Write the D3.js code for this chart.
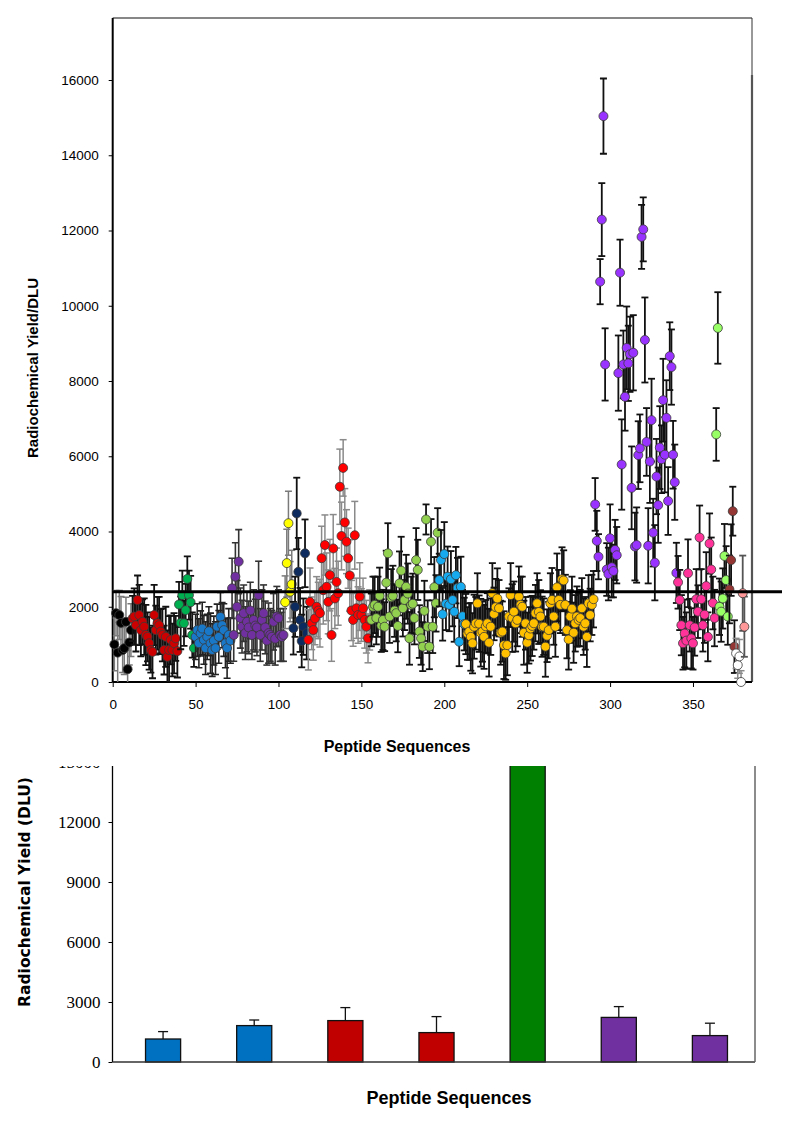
<!DOCTYPE html>
<html><head><meta charset="utf-8">
<script src="https://cdn.jsdelivr.net/npm/d3@7"></script>
<style>body{margin:0;background:#fff}</style>
</head><body>
<svg id="chart" width="800" height="1128"></svg>
<script>
// ---------- Top chart data (peptide index = running position) ----------
const blackY = [1000,1830,780,1780,1570,850,900,1600,340,1050,1380];
const blackE = [700,600,800,650,700,600,700,650,500,600,700];
const red1Y = [1690,1740,1510,2180,1780,1380,1600,1470,1250,1200,1030,850,800,1780,1380,1560,1510,1340,1250,850,1200,670,850,1120,850,1030,1160,820];
const red1E = [600,750,700,650,800,700,600,750,800,650,700,600,700,800,650,700,750,600,700,650,800,700,900,650,700,800,600,700];
const greenY = [2060,1570,2310,1560,1910,2740,2310,2120,1250,900];
const greenE = [600,700,650,600,700,600,650,700,600,500];
const blueY = [1200,1380,1030,1290,1420,1120,900,1200,1350,1030,850,1100,900,1470,1200,1730,1510,1380,1030,900,1250,1100];
const blueE = [600,700,650,600,700,650,700,600,650,800,700,650,700,600,700,650,600,700,650,800,700,600];
const purple1Y = [2490,1250,2800,2000,3200,1700,1470,1830,1300,1600,1450,1900,1250,1650,1500,1450,2310,1250,1650,1830,1450,1100,1300,1250,1200,1600,1150,1740,1700,1250,1200,1250];
const purple1E = [800,700,900,700,850,800,700,750,700,800,700,750,650,800,700,750,900,700,800,750,700,650,800,700,700,750,700,800,750,700,650,700];
const yellowY = [2120,3160,4220,2400,2600];
const yellowE = [700,900,850,800,900];
const navyY = [1430,2000,4480,2930,1650,1090,1470,3420,1300];
const navyE = [700,800,950,900,850,700,750,900,700];
const red2Y = [1120,2130,1560,1380,1690,2000,1900,1830,3290,2440,3640,2530,2130,2840,1250,3550,2220,2660,2360,5190,3880,5690,4240,3730,3290,2830,1900,1650,3900,1960,1780,2270,1780,1960,1650,1470,1160,1650];
const red2E = [800,900,700,800,700,800,750,900,850,900,800,900,850,950,700,900,800,900,850,1000,900,750,900,850,800,950,800,700,900,800,750,900,700,800,750,700,650,800];
const lgreenY = [1650,2000,2050,1700,2000,2290,1500,1650,1470,2640,3420,1740,2250,2290,1900,1830,1490,2620,2960,1960,2180,2530,2350,1160,2050,2080,1700,3240,2980,1340,1160,940,1890,4320,1470,940,3730,1470,2520,2090,3970];
const lgreenE = [700,800,750,700,800,750,700,800,650,850,800,700,750,800,700,750,700,850,900,750,800,850,800,700,750,800,700,850,800,700,700,650,800,400,700,600,600,700,800,750,650];
const lblueY = [2710,3240,1800,3400,2080,2800,2050,2730,2180,1870,2840,2500,1070,2530,1750,1540];
const lblueE = [700,800,700,850,700,800,700,750,700,800,750,800,650,800,700,700];
const orangeY = [1540,1290,1340,1200,1030,1470,1560,2090,1550,1310,
  1340,1200,1480,1560,1045,1470,2360,1810,1990,2220,
  1960,1310,1340,980,760,980,1740,2310,1700,1870,
  1560,1650,2270,2050,2000,1310,1560,1045,1240,1420,
  1490,1560,1830,2090,1860,1740,1470,1470,940,1230,
  1380,2090,2180,1740,1470,2515,2180,2050,2730,2700,
  2050,1380,1130,1740,1950,1310,1560,1740,1650,1700,
  1960,1470,1560,1200,2090,1780,2050,2200];
const orangeE = [800,700,750,900,800,850,700,800,750,900,
  800,850,700,800,900,750,800,700,750,800,
  750,850,800,900,700,800,750,850,900,800,
  750,700,800,750,800,850,700,800,750,850,
  800,700,750,800,850,700,800,750,800,700,
  750,800,850,750,800,900,800,750,850,800,
  800,750,800,700,850,800,750,800,700,750,
  800,750,700,800,750,700,800,750];
const purple2Y = [4720,3750,3330,10640,12290,15040,8440,2990,2870,3820,
  3050,2950,3510,3370,8210,10880,5780,8440,7580,8880,
  8470,8710,5160,8750,3600,3640,6030,6210,11830,12030,
  9090,6380,3620,5860,6960,3970,3170,5460,4700,6230,
  5920,7490,6040,7020,4810,8660,8370,6040,5310,2900];
const purple2E = [700,800,600,600,970,1000,960,700,700,900,
  800,700,800,750,1000,880,1200,900,900,1100,
  1000,1000,1100,1000,900,1000,900,900,850,850,
  1130,900,1000,1100,1100,900,1000,1000,1000,1100,
  900,1100,1000,1000,900,900,1000,900,1000,800];
const pinkY = [2650,2180,1510,1030,1290,1100,2890,1510,1160,1030,1450,2200,1870,3840,2200,1510,1790,2550,1200,3680,2990,2100,1700];
const pinkE = [700,800,800,700,900,750,900,700,800,700,750,800,700,850,800,700,750,900,650,800,850,700,750];
const lime2Y = [6580,9410,2000,1870,2220,3350,2710,1740];
const lime2E = [700,950,750,800,800,850,900,750];
const brownY = [2460,3240,4540,940];
const brownE = [900,950,650,700];
const whiteY = [760,450,680,0];
const whiteE = [400,350,450,300];
const salmonY = [2360,1470];
const salmonE = [1000,800];

const xTickValues = [0,50,100,150,200,250,300,350];
const yTickValues = [0,2000,4000,6000,8000,10000,12000,14000,16000];
const thresholdValue = 2400;

// ---------- Bottom chart data ----------
const barLabels = ["A","B","C","D","E","F","G"];
const barValues = [1150,1820,2070,1470,16500,2230,1320];
const barErrors = [370,280,650,800,0,540,620];
const barTickValues = [0,3000,6000,9000,12000,15000];

// ---------- styles ----------
const seriesList = [
  {y: blackY, e: blackE, fill: "#000000", ec: "#7a7a7a", ew: 1.5},
  {y: red1Y, e: red1E, fill: "#cc0000", ec: "#111", ew: 1.8},
  {y: greenY, e: greenE, fill: "#00b050", ec: "#111", ew: 1.8},
  {y: blueY, e: blueE, fill: "#1a78c8", ec: "#222", ew: 1.6},
  {y: purple1Y, e: purple1E, fill: "#7030a0", ec: "#333", ew: 1.6},
  {y: yellowY, e: yellowE, fill: "#ffff00", ec: "#7a7a7a", ew: 1.5},
  {y: navyY, e: navyE, fill: "#0d2b5e", ec: "#111", ew: 1.8},
  {y: red2Y, e: red2E, fill: "#ff0000", ec: "#8a8a8a", ew: 1.5},
  {y: lgreenY, e: lgreenE, fill: "#92d050", ec: "#111", ew: 1.8},
  {y: lblueY, e: lblueE, fill: "#17aaee", ec: "#111", ew: 1.8},
  {y: orangeY, e: orangeE, fill: "#ffc000", ec: "#111", ew: 1.8},
  {y: purple2Y, e: purple2E, fill: "#9933ff", ec: "#111", ew: 1.8},
  {y: pinkY, e: pinkE, fill: "#ff3399", ec: "#111", ew: 1.8},
  {y: lime2Y, e: lime2E, fill: "#99ff66", ec: "#111", ew: 1.8},
  {y: brownY, e: brownE, fill: "#943634", ec: "#111", ew: 1.8},
  {y: whiteY, e: whiteE, fill: "#ffffff", ec: "#8a8a8a", ew: 1.5},
  {y: salmonY, e: salmonE, fill: "#ff9999", ec: "#555", ew: 1.8}
];
const barFills = ["#0070c0","#0070c0","#c00000","#c00000","#008000","#7030a0","#7030a0"];

const svg = d3.select("#chart");

// ---------- TOP CHART ----------
const x = d3.scaleLinear().domain([0, 385.6]).range([112.7, 752]);
const y = d3.scaleLinear().domain([0, 16000]).range([682, 80]);
const plotTop = 18;

const defs = svg.append("defs");
defs.append("clipPath").attr("id","plotclip")
  .append("rect").attr("x", x(0)).attr("y", plotTop).attr("width", x(385.6)-x(0)).attr("height", y(0)-plotTop);

const topG = svg.append("g");

// frame
topG.append("line").attr("x1", x(0)).attr("x2", 752).attr("y1", plotTop).attr("y2", plotTop).attr("stroke","#111").attr("stroke-width",1.2);
topG.append("line").attr("x1", 752).attr("x2", 752).attr("y1", plotTop).attr("y2", 75).attr("stroke","#333").attr("stroke-width",1);
topG.append("line").attr("x1", 752).attr("x2", 752).attr("y1", 75).attr("y2", y(0)).attr("stroke","#555").attr("stroke-width",2.2);

// axes
const yAxis = d3.axisLeft(y).tickValues(yTickValues).tickSize(4).tickPadding(10).tickFormat(d3.format("d"));
const gy = topG.append("g").attr("transform", `translate(${x(0)},0)`).call(yAxis);
gy.select(".domain").remove();
gy.selectAll("text").attr("font-family","Liberation Sans, Arial").attr("font-size","13.5px").attr("fill","#000");
topG.append("line").attr("x1", x(0)).attr("x2", x(0)).attr("y1", plotTop).attr("y2", y(0)).attr("stroke","#000").attr("stroke-width",2);

const xAxis = d3.axisBottom(x).tickValues(xTickValues).tickSize(5).tickPadding(12).tickFormat(d3.format("d"));
const gx = topG.append("g").attr("transform", `translate(0,${y(0)})`).call(xAxis);
gx.select(".domain").remove();
gx.selectAll("text").attr("font-family","Liberation Sans, Arial").attr("font-size","13.5px").attr("fill","#000");
topG.append("line").attr("x1", x(0)).attr("x2", 752).attr("y1", y(0)).attr("y2", y(0)).attr("stroke","#000").attr("stroke-width",2);

// series
let idx = 1;
const pointsLayer = topG.append("g");
seriesList.forEach(s => {
  const pts = s.y.map((v, j) => ({i: idx + j, v: v, e: s.e[j]}));
  idx += s.y.length;
  const g = pointsLayer.append("g");
  const eb = g.append("g").attr("clip-path","url(#plotclip)").attr("stroke", s.ec).attr("stroke-width", s.ew);
  pts.forEach(p => {
    const cx = x(p.i), y1 = y(p.v + p.e), y0 = y(p.v - p.e);
    eb.append("line").attr("x1", cx).attr("x2", cx).attr("y1", y1).attr("y2", y0);
    eb.append("line").attr("x1", cx-3.5).attr("x2", cx+3.5).attr("y1", y1).attr("y2", y1);
    eb.append("line").attr("x1", cx-3.5).attr("x2", cx+3.5).attr("y1", y0).attr("y2", y0);
  });
  g.selectAll("circle").data(pts).join("circle")
    .attr("cx", d => x(d.i)).attr("cy", d => y(d.v)).attr("r", 4.5)
    .attr("fill", s.fill).attr("stroke", "#3a3a3a").attr("stroke-width", 0.8);
});

// threshold line
topG.append("line").attr("x1", x(0)).attr("x2", 782).attr("y1", y(thresholdValue)).attr("y2", y(thresholdValue))
  .attr("stroke","#000").attr("stroke-width",3);

// titles
topG.append("text").attr("transform", `translate(38,${368}) rotate(-90)`).attr("text-anchor","middle")
  .attr("font-family","Liberation Sans, Arial").attr("font-weight","bold").attr("font-size","15px").text("Radiochemical Yield/DLU");
topG.append("text").attr("x", 397).attr("y", 752).attr("text-anchor","middle")
  .attr("font-family","Liberation Sans, Arial").attr("font-weight","bold").attr("font-size","16px").text("Peptide Sequences");

// ---------- BOTTOM CHART ----------
const xb = d3.scaleBand().domain(barLabels).range([117.5, 755.5]);
const yb = d3.scaleLinear().domain([0, 15000]).range([1062, 762]);
const clipTop = 766;
defs.append("clipPath").attr("id","botclip")
  .append("rect").attr("x", 0).attr("y", clipTop).attr("width", 800).attr("height", 1128-clipTop);

const bot = svg.append("g").attr("clip-path","url(#botclip)");
const bw = xb.bandwidth() * 0.385;

bot.selectAll("rect.bar").data(barValues).join("rect").attr("class","bar")
  .attr("x", (d,i) => xb(barLabels[i]) + xb.bandwidth()/2 - bw/2)
  .attr("y", d => yb(d)).attr("width", bw).attr("height", d => yb(0) - yb(d))
  .attr("fill", (d,i) => barFills[i]).attr("stroke","#111").attr("stroke-width",1.3);

barValues.forEach((v,i) => {
  if (!barErrors[i]) return;
  const cx = xb(barLabels[i]) + xb.bandwidth()/2;
  bot.append("line").attr("x1",cx).attr("x2",cx).attr("y1",yb(v)).attr("y2",yb(v+barErrors[i])).attr("stroke","#111").attr("stroke-width",1.3);
  bot.append("line").attr("x1",cx-5).attr("x2",cx+5).attr("y1",yb(v+barErrors[i])).attr("y2",yb(v+barErrors[i])).attr("stroke","#111").attr("stroke-width",1.3);
});

const yAxisB = d3.axisLeft(yb).tickValues(barTickValues).tickSize(4).tickPadding(8).tickFormat(d3.format("d"));
const gyb = bot.append("g").attr("transform", `translate(112.5,0)`).call(yAxisB);
gyb.select(".domain").remove();
gyb.selectAll("text").attr("font-family","Liberation Serif, Times New Roman").attr("font-size","17px").attr("fill","#000");
bot.append("line").attr("x1",112.5).attr("x2",112.5).attr("y1",clipTop).attr("y2",yb(0)).attr("stroke","#000").attr("stroke-width",1.3);
bot.append("line").attr("x1",112.5).attr("x2",755).attr("y1",yb(0)).attr("y2",yb(0)).attr("stroke","#333").attr("stroke-width",1.5);
bot.append("line").attr("x1",755).attr("x2",755).attr("y1",clipTop).attr("y2",yb(0)).attr("stroke","#666").attr("stroke-width",1.5);

bot.append("text").attr("transform", `translate(30,892) rotate(-90)`).attr("text-anchor","middle")
  .attr("font-family","DejaVu Sans").attr("font-weight","bold").attr("font-size","15.5px").text("Radiochemical Yield (DLU)");
bot.append("text").attr("x", 449).attr("y", 1104).attr("text-anchor","middle")
  .attr("font-family","Liberation Sans, Arial").attr("font-weight","bold").attr("font-size","18px").text("Peptide Sequences");
</script>
</body></html>
